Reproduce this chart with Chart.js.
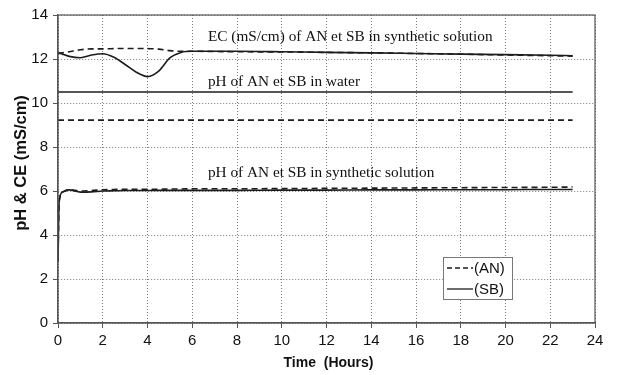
<!DOCTYPE html>
<html>
<head>
<meta charset="utf-8">
<script src="https://cdn.jsdelivr.net/npm/chart.js@4.4.1/dist/chart.umd.min.js"></script>
<style>
html,body{margin:0;padding:0;background:#fff;}
#wrap{width:619px;height:375px;position:relative;}
</style>
</head>
<body>
<div id="wrap"><canvas id="c" width="619" height="375"></canvas></div>
<script>
// ---- data ----
const hours        = [0, 0.05, 0.2, 0.5, 1, 1.5, 2, 2.5, 3, 3.5, 4, 4.5, 5, 5.5, 6, 8, 10, 12, 14, 16, 18, 20, 22, 23];
const ecAN         = [12.25, 12.25, 12.28, 12.33, 12.42, 12.46, 12.46, 12.47, 12.48, 12.48, 12.47, 12.45, 12.38, 12.35, 12.35, 12.33, 12.32, 12.30, 12.28, 12.25, 12.22, 12.18, 12.15, 12.13];
const ecSB         = [12.30, 12.28, 12.22, 12.12, 12.06, 12.18, 12.24, 12.08, 11.75, 11.40, 11.20, 11.45, 12.05, 12.30, 12.35, 12.35, 12.33, 12.30, 12.28, 12.25, 12.22, 12.20, 12.17, 12.15];
const phWaterSB    = [10.5, 10.5, 10.5, 10.5, 10.5, 10.5, 10.5, 10.5, 10.5, 10.5, 10.5, 10.5, 10.5, 10.5, 10.5, 10.5, 10.5, 10.5, 10.5, 10.5, 10.5, 10.5, 10.5, 10.5];
const phWaterAN    = [9.22, 9.22, 9.22, 9.22, 9.22, 9.22, 9.22, 9.22, 9.22, 9.22, 9.22, 9.22, 9.22, 9.22, 9.22, 9.22, 9.22, 9.22, 9.22, 9.22, 9.22, 9.22, 9.22, 9.22];
const phSynthAN    = [2.8, 5.5, 5.95, 6.06, 6.00, 6.02, 6.06, 6.07, 6.08, 6.08, 6.08, 6.08, 6.09, 6.09, 6.10, 6.10, 6.11, 6.12, 6.13, 6.14, 6.15, 6.16, 6.17, 6.18];
const phSynthSB    = [2.8, 5.5, 5.95, 6.05, 5.95, 5.96, 6.00, 6.01, 6.02, 6.02, 6.02, 6.03, 6.03, 6.03, 6.03, 6.03, 6.04, 6.04, 6.05, 6.05, 6.06, 6.06, 6.07, 6.07];
const xTicks       = [0, 2, 4, 6, 8, 10, 12, 14, 16, 18, 20, 22, 24];
const yTicks       = [0, 2, 4, 6, 8, 10, 12, 14];
const seriesNames  = ['(AN)', '(SB)'];
const annotations  = ['EC (mS/cm) of AN et SB in synthetic solution', 'pH of AN et SB in water', 'pH of AN et SB in synthetic solution'];
const xTitle = 'Time  (Hours)';
const yTitle = 'pH & CE (mS/cm)';

const INK = '#1c1c1c';
const DASH = [6, 4];
function pts(vals){ return hours.map((h,i)=>({x:h,y:vals[i]})); }
function ds(vals, dashed){
  return {data: pts(vals), borderColor: INK, borderWidth: 1.6, borderDash: dashed ? DASH : [],
          pointRadius: 0, tension: 0.4, cubicInterpolationMode: 'monotone', fill: false};
}

const overlay = {
  id: 'overlay',
  afterDraw(chart){
    const {ctx, chartArea: a, scales: {x, y}} = chart;
    ctx.save();
    // frame
    ctx.strokeStyle = '#555'; ctx.lineWidth = 1.2; ctx.setLineDash([]);
    ctx.strokeRect(a.left, a.top, a.right - a.left, a.bottom - a.top);
    // annotations
    ctx.fillStyle = '#111';
    ctx.font = '15.3px "Liberation Serif", "Times New Roman", serif';
    ctx.textBaseline = 'middle'; ctx.textAlign = 'left';
    const ax = x.getPixelForValue(6.7);
    ctx.fillText(annotations[0], ax, y.getPixelForValue(13.0));
    ctx.fillText(annotations[1], ax, y.getPixelForValue(10.97));
    ctx.fillText(annotations[2], ax, y.getPixelForValue(6.84));
    // legend
    const lx = 443, ly = 257, lw = 69, lh = 42;
    ctx.fillStyle = '#fff'; ctx.fillRect(lx, ly, lw, lh);
    ctx.strokeStyle = '#777'; ctx.lineWidth = 1; ctx.strokeRect(lx + 0.5, ly + 0.5, lw, lh);
    ctx.font = '15px "Liberation Sans", Arial, sans-serif';
    ctx.fillStyle = '#111';
    [0,1].forEach(i=>{
      const cy = ly + 11 + i*21;
      ctx.strokeStyle = INK; ctx.lineWidth = 1.3;
      ctx.setLineDash(i===0 ? [5,3] : []);
      ctx.beginPath(); ctx.moveTo(lx + 4, cy); ctx.lineTo(lx + 30, cy); ctx.stroke();
      ctx.setLineDash([]);
      ctx.fillText(seriesNames[i], lx + 31, cy + 1);
    });
    // axis titles
    ctx.font = 'bold 14px "Liberation Sans", Arial, sans-serif';
    ctx.textAlign = 'center';
    ctx.fillText(xTitle, (a.left + a.right)/2 + 2, 363);
    ctx.save();
    ctx.translate(21, 163); ctx.rotate(-Math.PI/2);
    ctx.font = 'bold 16.5px "Liberation Sans", Arial, sans-serif';
    ctx.fillText(yTitle, 0, 0);
    ctx.restore();
    ctx.restore();
  }
};

new Chart(document.getElementById('c'), {
  type: 'line',
  data: { datasets: [
    ds(ecAN, true), ds(ecSB, false),
    ds(phWaterSB, false), ds(phWaterAN, true),
    ds(phSynthAN, true), ds(phSynthSB, false)
  ]},
  options: {
    responsive: false, animation: false, devicePixelRatio: 1,
    layout: { padding: { top: 15, right: 24, left: 0, bottom: 0 } },
    plugins: { legend: { display: false }, tooltip: { enabled: false } },
    scales: {
      x: {
        type: 'linear', min: 0, max: 24,
        afterBuildTicks(s){ s.ticks = xTicks.map(v=>({value:v})); },
        afterFit(s){ s.height = 52; },
        ticks: { color: '#111', font: { family: '"Liberation Sans", Arial, sans-serif', size: 15 }, padding: 4, maxRotation: 0 },
        grid: { color: '#7a7a7a', lineWidth: 1, tickLength: 5, tickColor: '#555', tickBorderDash: [0, 0] },
        border: { color: '#555', width: 1.2, dash: [1, 2] }
      },
      y: {
        type: 'linear', min: 0, max: 14,
        afterBuildTicks(s){ s.ticks = yTicks.map(v=>({value:v})); },
        afterFit(s){ s.width = 58; },
        ticks: { color: '#111', font: { family: '"Liberation Sans", Arial, sans-serif', size: 15 }, padding: 5 },
        grid: { color: '#7a7a7a', lineWidth: 1, tickLength: 5, tickColor: '#555', tickBorderDash: [0, 0] },
        border: { color: '#555', width: 1.2, dash: [1, 2] }
      }
    }
  },
  plugins: [overlay]
});
</script>
</body>
</html>
